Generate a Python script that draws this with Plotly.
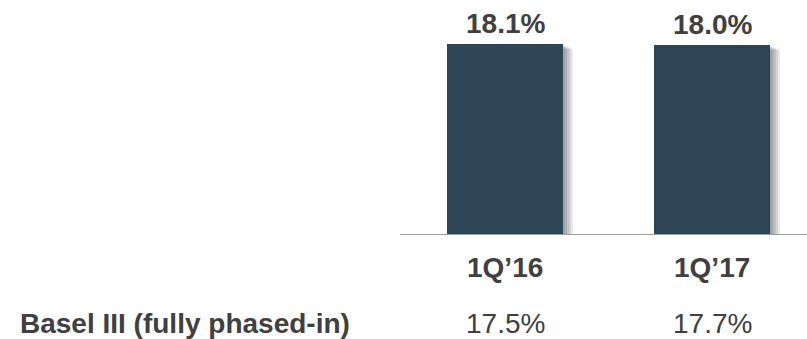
import plotly.graph_objects as go

categories = ["1Q’16", "1Q’17"]
ratio_values = [18.1, 18.0]
bar_labels = ["18.1%", "18.0%"]
basel_label = "Basel III (fully phased-in)"
basel_values = ["17.5%", "17.7%"]

BAR = "#2E4556"
TXT = "#404040"
FONT = "Liberation Sans, Arial, sans-serif"

W, H = 807, 339
ML, MR, MT, MB = 400, 0, 0, 104
plot_w = W - ML - MR
plot_h = H - MT - MB
px_per_cat = 207.0
x_lo = -105.0 / px_per_cat
x_hi = x_lo + plot_w / px_per_cat
px_per_unit = 191.0 / 18.1
y_hi = plot_h / px_per_unit
BW = 116.0 / px_per_cat

fig = go.Figure()

# soft shadow layers to the right of each bar
for k in [10, 8, 6, 4, 2]:
    fig.add_trace(go.Bar(
        x=list(range(len(categories))), y=ratio_values,
        base=-(k * 0.5) / px_per_unit,
        width=BW, offset=-BW / 2 + k / px_per_cat,
        marker=dict(color="rgba(0,0,0,0.085)", line=dict(width=0)),
        hoverinfo="skip", showlegend=False,
    ))

fig.add_trace(go.Bar(
    x=list(range(len(categories))), y=ratio_values,
    width=BW, offset=-BW / 2,
    marker=dict(color=BAR, line=dict(width=0)),
    showlegend=False,
))

# value labels above bars
for i, (v, lab) in enumerate(zip(ratio_values, bar_labels)):
    fig.add_annotation(x=i, y=v, xref="x", yref="y", text=f"<b>{lab}</b>",
                       showarrow=False, yanchor="bottom", yshift=3,
                       font=dict(family=FONT, size=28, color=TXT))

# category labels
for i, c in enumerate(categories):
    fig.add_annotation(x=i, y=-32.0 / plot_h, xref="x", yref="paper",
                       text=f"<b>{c}</b>", showarrow=False, yanchor="middle",
                       font=dict(family=FONT, size=28, color=TXT))

# Basel III row
fig.add_annotation(x=(18.0 - ML) / plot_w, y=-88.0 / plot_h, xref="paper", yref="paper",
                   text=f"<b>{basel_label}</b>", showarrow=False,
                   xanchor="left", yanchor="middle",
                   font=dict(family=FONT, size=28, color=TXT))
for i, v in enumerate(basel_values):
    fig.add_annotation(x=i, y=-88.0 / plot_h, xref="x", yref="paper",
                       text=v, showarrow=False, yanchor="middle",
                       font=dict(family=FONT, size=28, color=TXT))

# axis baseline
fig.add_shape(type="line", xref="paper", yref="y", x0=0, x1=1, y0=0, y1=0,
              line=dict(color="#A0A0A0", width=2))

fig.update_layout(
    width=W, height=H,
    margin=dict(l=ML, r=MR, t=MT, b=MB, pad=0),
    paper_bgcolor="white", plot_bgcolor="white",
    barmode="overlay", bargap=0,
    xaxis=dict(range=[x_lo, x_hi], visible=False, fixedrange=True),
    yaxis=dict(range=[0, y_hi], visible=False, fixedrange=True),
)

fig.write_html("out.html", config={"displayModeBar": False})
